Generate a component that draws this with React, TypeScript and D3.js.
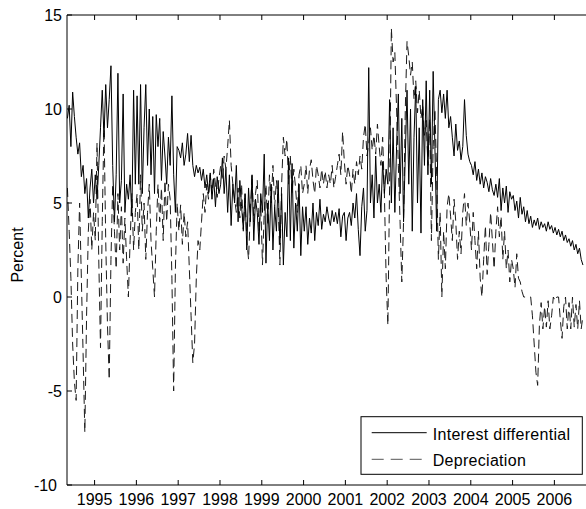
import React from "react";
import * as d3 from "d3";

// Semi-monthly observations starting mid-1994
const startYear = 1994.35;
const obsPerYear = 24;

const interestDiff: number[] = [
  // 1994
  9.5, 10.2, 8.0, 10.9, 9.6, 8.5, 7.6, 8.2, 6.4, 7.0, 5.5, 6.3, 4.2, 5.8, 6.8, 5.0,
  // 1995
  6.5, 5.2, 7.0, 9.0, 11.0, 8.5, 11.3, 9.0, 10.5, 12.3, 7.0, 4.0, 6.5, 11.9, 5.0, 6.2, 10.8, 4.5, 6.0, 5.2, 6.5, 4.3, 11.0, 6.0,
  // 1996
  10.7, 6.0, 11.3, 5.5, 9.0, 11.3, 7.0, 10.0, 6.5, 9.6, 5.5, 9.7, 8.0, 9.5, 6.2, 8.8, 7.5, 6.0, 8.5, 7.0, 10.7, 6.5, 4.5, 8.0,
  // 1997
  7.8, 7.4, 8.2, 7.0, 7.6, 8.7, 7.2, 8.6, 7.0, 6.4, 7.0, 6.6, 6.9, 6.2, 6.8, 5.8, 6.5, 5.5, 6.6, 5.2, 6.3, 4.8, 6.4, 5.5,
  // 1998
  6.0, 7.4, 5.5, 6.8, 4.5, 6.5, 3.8, 6.0, 5.0, 7.0, 4.0, 6.2, 4.8, 3.6, 5.5, 2.5, 5.8, 4.0, 6.5, 3.0, 5.2, 4.5, 2.8, 5.5,
  // 1999
  4.5, 7.6, 1.8, 5.0, 3.0, 6.0, 2.5, 4.8, 3.5, 6.2, 2.8, 5.5, 1.7, 4.5, 3.2, 7.4, 3.0, 7.1, 2.6, 5.0, 3.5, 6.0, 2.2, 4.8,
  // 2000
  3.5, 4.8, 2.8, 4.2, 3.4, 5.0, 3.0, 4.5, 3.8, 5.2, 3.6, 4.4, 4.0, 4.8, 4.2, 3.8, 4.6, 4.0, 4.5, 3.9, 4.7, 3.2, 4.3, 4.5,
  // 2001
  3.0, 4.2, 4.5, 3.8, 5.0, 4.2, 5.5, 3.6, 2.2, 4.8, 5.8, 3.5, 4.6, 12.2, 5.0, 6.5, 4.2, 7.5, 5.0, 6.0, 4.5, 7.2, 5.5, 6.8,
  // 2002
  6.0, 10.5, 5.0, 9.0, 4.5, 8.0, 10.8, 5.5, 9.5, 4.0, 7.5, 11.0, 6.0, 10.0, 3.5, 8.5, 11.2, 5.0, 9.0, 3.4, 10.5, 7.0, 11.5, 6.5,
  // 2003
  11.0, 6.0, 12.0, 8.0, 3.5, 10.5, 11.0, 9.8, 10.8, 9.5, 11.0, 9.0, 9.6, 8.5, 7.5, 9.2, 7.8, 8.3, 7.3, 8.0, 10.5, 8.6, 7.6, 7.2,
  // 2004
  7.0, 6.5, 7.2, 6.2, 6.8, 6.0, 6.6, 5.8, 6.4, 6.1, 5.6, 6.3, 5.7, 5.4, 6.0, 5.3, 6.3, 4.6, 5.8, 5.0, 5.9, 4.5, 5.6, 5.2,
  // 2005
  5.4, 4.6, 5.1, 4.2, 5.3, 4.4, 4.8, 4.0, 4.6, 3.9, 4.3, 3.7, 4.1, 3.8, 4.2, 3.6, 4.0, 3.7, 3.9, 3.5, 4.0, 3.6, 3.8, 3.4,
  // 2006
  3.7, 3.3, 3.6, 3.2, 3.5, 3.0, 3.3, 2.9, 3.1, 2.7, 3.0, 2.5, 2.8, 2.3, 2.6, 2.0, 1.7,
];

const depreciation: number[] = [
  // 1994
  5.8, 3.5, 1.0, -2.5, -4.5, -5.5, 1.5, 5.0, 1.0, -3.0, -7.2, -1.0, 3.5, 5.2, 2.5, 4.5,
  // 1995
  3.0, 8.2, 2.0, -2.7, 4.0, 9.3, 3.0, -1.5, -4.4, 2.0, 6.0, 3.5, 1.5, 5.5, 2.5, 4.8, 1.8, 4.2, 2.0, 0.0, 3.0, 5.5, 2.5, 4.5,
  // 1996
  5.5, 2.5, 6.5, 3.5, 5.0, 2.0, 4.5, 6.0, 3.0, 1.5, 0.0, 3.5, 6.0, 4.0, 5.8, 3.0, 6.2, 4.0, 6.0, 5.2, 1.0, -5.0, 1.5, 5.0,
  // 1997
  3.5, 4.9, 2.8, 4.5, 3.2, 4.0, 1.5, -1.0, -3.5, -2.5, 1.0, 3.0, 2.5, 4.0, 5.5, 4.5, 6.0, 5.2, 6.5, 5.5, 6.8, 6.0, 5.3, 6.3,
  // 1998
  7.0, 6.2, 7.5, 6.8, 8.0, 9.4, 7.0, 6.0, 5.2, 4.5, 5.8, 4.2, 6.0, 3.5, 5.5, 3.0, 2.0, 4.5, 6.5, 4.0, 5.5, 6.2, 3.5, 5.0,
  // 1999
  1.7, 4.5, 6.0, 3.8, 6.5, 5.0, 7.0, 4.8, 6.2, 5.2, 1.7, 6.0, 8.5, 7.5, 8.4, 6.0, 7.5, 5.5, 6.8, 5.8, 4.5, 6.5, 7.0, 5.5,
  // 2000
  6.0, 7.0, 5.5, 6.8, 7.3, 6.2, 5.5, 7.0, 6.5, 5.8, 6.8, 6.0, 6.7, 5.8, 6.5, 6.0, 7.0, 5.8, 6.4, 7.0, 7.6, 6.5, 8.8, 7.2,
  // 2001
  6.0, 7.0, 6.5, 5.5, 6.8, 6.0, 7.2, 6.5, 7.5, 6.8, 8.5, 9.2, 7.5, 8.2, 9.0, 7.8, 8.6, 7.6, 9.2, 8.0, 7.0, 8.5, 5.5, 1.0,
  // 2002
  -1.5, 6.0, 14.3, 12.5, 13.0, 10.0, 7.0, 4.0, 0.8, 4.0, 10.0, 13.6, 12.8, 11.8, 12.5, 10.5, 11.5, 9.8, 11.0, 9.5, 10.2, 8.6, 9.4, 7.0,
  // 2003
  9.5, 3.0, 8.0, 10.0, 6.5, 2.0, 4.5, 0.0, 3.5, 1.5, 4.8, 5.5, 4.3, 3.0, 5.2, 4.0, 2.0, 3.5, 2.3, 4.5, 5.5, 3.8, 5.0, 4.0,
  // 2004
  2.5, 4.5, 3.0, 1.5, 3.5, 1.0, 0.0, 2.0, 3.8, 1.2, 2.8, 4.5, 3.0, 1.5, 3.5, 4.8, 3.2, 4.3, 2.0, 3.5, 1.5, 2.5, 0.8, 2.0,
  // 2005
  1.5, 0.5, 2.3, 1.0, 0.8, 0.3, 0.0, 0.0, 0.0, 0.0, 0.0, -1.0, -2.5, -4.0, -4.7, -1.5, -0.3, -1.7, -0.5, -1.6, -0.2, -1.7, -1.0, 0.0,
  // 2006
  -0.2, 0.0, 0.0, -1.2, -2.2, -0.5, 0.0, -1.7, -0.3, -1.7, 0.0, -1.6, -0.4, -1.7, -0.2, -1.7, -1.0,
];

const yearTicks = [1995, 1996, 1997, 1998, 1999, 2000, 2001, 2002, 2003, 2004, 2005, 2006];
const yTicks = [-10, -5, 0, 5, 10, 15];
const seriesNames = ["Interest differential", "Depreciation"];

const W = 586;
const H = 509;
const left = 67;
const top = 15;
const bottom = 485;
const right = 592;
const FONT = "'Liberation Sans', Arial, Helvetica, sans-serif";
const FS = 16;

export default function App() {
  const x = d3.scaleLinear().domain([1994.34, 2006.9]).range([left, right]);
  const y = d3.scaleLinear().domain([-10, 15]).range([bottom, top]);
  const t = (i: number) => startYear + i / obsPerYear;

  const line = d3
    .line<number>()
    .x((_, i) => x(t(i)))
    .y((d) => y(d));

  const tickLen = 5;

  return (
    <svg
      width={W}
      height={H}
      style={{ position: "absolute", left: 0, top: 0, background: "#fff" }}
      fontFamily={FONT}
    >
      <rect x={0} y={0} width={W} height={H} fill="#fff" />
      <defs>
        <clipPath id="plotClip">
          <rect x={left} y={top} width={right - left} height={bottom - top} />
        </clipPath>
      </defs>
      <g clipPath="url(#plotClip)">
        <path
          d={line(depreciation) || ""}
          fill="none"
          stroke="#1a1a1a"
          strokeWidth={1}
          strokeDasharray="9,5"
        />
        <path d={line(interestDiff) || ""} fill="none" stroke="#000" strokeWidth={1} />
      </g>

      {/* axes box */}
      <line x1={left} x2={left} y1={top} y2={bottom} stroke="#000" strokeWidth={1} />
      <line x1={left} x2={W + 10} y1={top} y2={top} stroke="#000" strokeWidth={1} />
      <line x1={left} x2={W + 10} y1={bottom} y2={bottom} stroke="#000" strokeWidth={1} />

      {yearTicks.map((yr) => (
        <g key={yr}>
          <line x1={x(yr)} x2={x(yr)} y1={bottom} y2={bottom - tickLen} stroke="#000" />
          <line x1={x(yr)} x2={x(yr)} y1={top} y2={top + tickLen} stroke="#000" />
          <text x={x(yr)} y={505} textAnchor="middle" fontSize={FS} fill="#000">
            {yr}
          </text>
        </g>
      ))}

      {yTicks.map((v) => (
        <g key={v}>
          <line x1={left} x2={left + tickLen} y1={y(v)} y2={y(v)} stroke="#000" />
          <text
            x={v === -10 ? 57 : 62}
            y={y(v) + 5.7}
            textAnchor="end"
            fontSize={FS}
            fill="#000"
          >
            {v}
          </text>
        </g>
      ))}

      <text
        transform={`translate(23, 255) rotate(-90)`}
        textAnchor="middle"
        fontSize={FS}
        fill="#000"
      >
        Percent
      </text>

      {/* legend */}
      <rect x={361} y={416.7} width={221.3} height={57.6} fill="#fff" stroke="#000" strokeWidth={1} />
      <line x1={371.7} x2={426.7} y1={432.7} y2={432.7} stroke="#000" strokeWidth={1} />
      <text x={432.7} y={440} fontSize={FS} letterSpacing={0.3} fill="#000">
        {seriesNames[0]}
      </text>
      <line
        x1={371.7}
        x2={426.7}
        y1={459.3}
        y2={459.3}
        stroke="#555"
        strokeWidth={1}
        strokeDasharray="12,7"
      />
      <text x={432.7} y={466} fontSize={FS} letterSpacing={0.3} fill="#000">
        {seriesNames[1]}
      </text>
    </svg>
  );
}
